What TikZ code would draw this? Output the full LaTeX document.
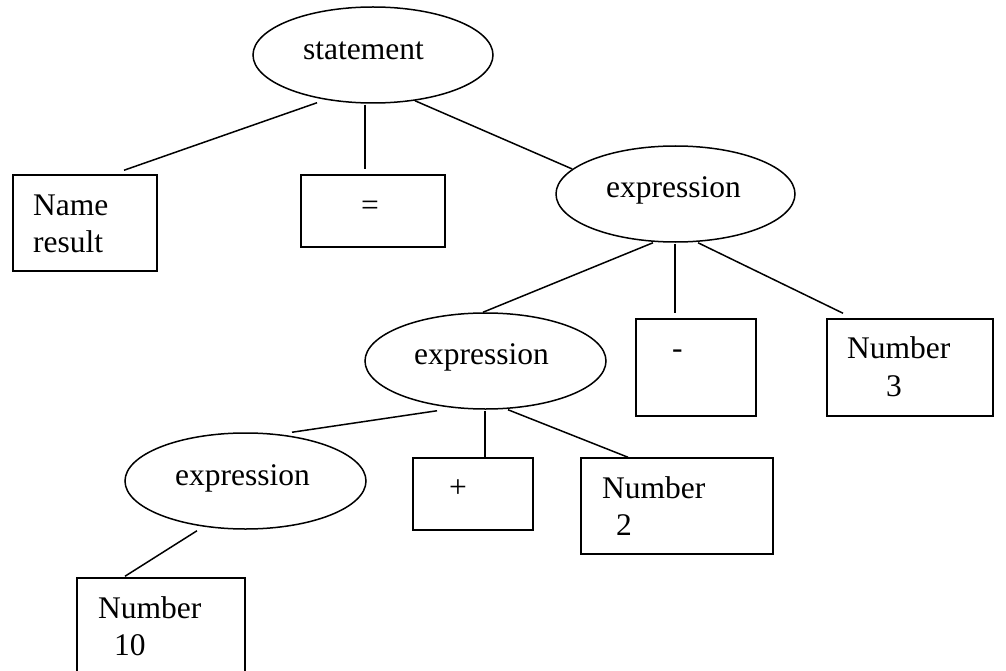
\documentclass[tikz,border=0pt]{standalone}
\usepackage{fontspec}
\setmainfont{Liberation Serif}
\usetikzlibrary{shapes.geometric}
\begin{document}
\begin{tikzpicture}[x=1pt,y=-1pt,
  ell/.style={draw, ellipse, line width=1.5pt, inner sep=0pt, minimum height=96pt},
  bx/.style={draw, rectangle, line width=1.5pt, inner sep=0pt},
  lbl/.style={anchor=base west, inner sep=0pt, font=\fontsize{31.5}{38}\selectfont},
  edge/.style={line width=1.5pt}]
\clip (0,0) rectangle (1006,671);
\fill[white] (0,0) rectangle (1006,671);
% ellipses
\node[ell, minimum width=240pt] (st) at (373,55) {};
\node[ell, minimum width=239pt] (ex1) at (675.5,194) {};
\node[ell, minimum width=241pt] (ex2) at (485.5,361) {};
\node[ell, minimum width=241pt] (ex3) at (245.5,481) {};
% boxes
\node[bx, minimum width=144pt, minimum height=96pt] (name) at (85,223) {};
\node[bx, minimum width=144pt, minimum height=72pt] (eq) at (373,211) {};
\node[bx, minimum width=120pt, minimum height=97pt] (minus) at (696,367.5) {};
\node[bx, minimum width=166pt, minimum height=97pt] (n3) at (910,367.5) {};
\node[bx, minimum width=120pt, minimum height=72pt] (plus) at (473,494) {};
\node[bx, minimum width=192pt, minimum height=96pt] (n2) at (677,506) {};
\node[bx, minimum width=168pt, minimum height=122pt] (n10) at (161,639) {};
% texts
\node[lbl] (tst) at (303,60) {statement};
\node[lbl] (tname1) at (33,215) {Name};
\node[lbl] (tname2) at (33,252) {result};
\node[lbl] (teq) at (361,215) {=};
\node[lbl] (tex1) at (606,197) {expression};
\node[lbl] (tminus) at (672,358) {-};
\node[lbl] (tn3a) at (847,358) {Number};
\node[lbl] (tn3b) at (886,396) {3};
\node[lbl] (tex2) at (414,364) {expression};
\node[lbl] (tplus) at (449,497) {+};
\node[lbl] (tn2a) at (602,498) {Number};
\node[lbl] (tn2b) at (616,535) {2};
\node[lbl] (tex3) at (175,485) {expression};
\node[lbl] (tn10a) at (98,618) {Number};
\node[lbl] (tn10b) at (114,655) {10};
% connectors
\draw[edge] ([xshift=-56pt,yshift=1pt]st.south) -- ([xshift=39pt,yshift=4pt]name.north);
\draw[edge] ([xshift=-8pt,yshift=-1pt]st.south) -- ([xshift=-8pt,yshift=5pt]eq.north);
\draw[edge] ([xshift=42pt,yshift=3pt]st.south) -- ([xshift=17pt,yshift=25pt]ex1.west);
\draw[edge] ([xshift=-22.5pt]ex1.south) -- ([xshift=-2.5pt]ex2.north);
\draw[edge] ([xshift=-0.5pt,yshift=-1pt]ex1.south) -- ([xshift=-21pt,yshift=5pt]minus.north);
\draw[edge] ([xshift=22.5pt]ex1.south) -- ([xshift=-67pt,yshift=5pt]n3.north);
\draw[edge] ([xshift=-48.5pt,yshift=-1pt]ex2.south) -- ([xshift=46.5pt]ex3.north);
\draw[edge] ([xshift=-0.5pt,yshift=-1pt]ex2.south) -- ([xshift=12pt]plus.north);
\draw[edge] ([xshift=22.5pt]ex2.south) -- ([xshift=-49pt]n2.north);
\draw[edge] ([xshift=-48.5pt,yshift=-1pt]ex3.south) -- ([xshift=-36pt,yshift=1pt]n10.north);
\end{tikzpicture}
\end{document}
